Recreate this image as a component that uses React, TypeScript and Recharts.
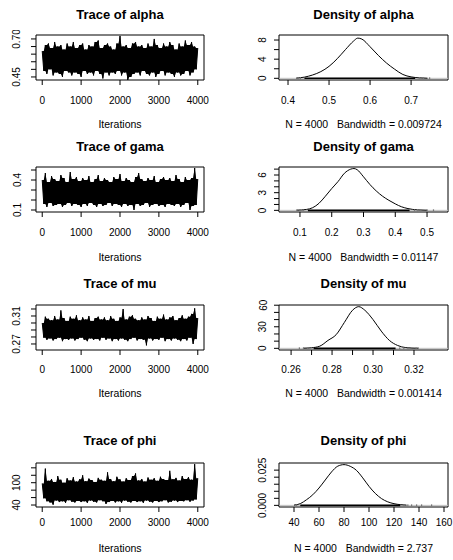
import React from "react";
import {
  ComposedChart,
  Area,
  Line,
  Scatter,
  XAxis,
  YAxis,
  ReferenceArea,
  ReferenceLine,
} from "recharts";

const FONT = '"Liberation Sans", Arial, sans-serif';

// chain positions of the sampled path (even index = upper swing, odd = lower swing)
const iterations = [
  0, 40, 80, 120, 160, 200, 240, 280, 320, 360, 400, 440, 480, 520, 560, 600, 640,
  680, 720, 760, 800, 840, 880, 920, 960, 1000, 1040, 1080, 1120, 1160, 1200, 1240,
  1280, 1320, 1360, 1400, 1440, 1480, 1520, 1560, 1600, 1640, 1680, 1720, 1760,
  1800, 1840, 1880, 1920, 1960, 2000, 2040, 2080, 2120, 2160, 2200, 2240, 2280,
  2320, 2360, 2400, 2440, 2480, 2520, 2560, 2600, 2640, 2680, 2720, 2760, 2800,
  2840, 2880, 2920, 2960, 3000, 3040, 3080, 3120, 3160, 3200, 3240, 3280, 3320,
  3360, 3400, 3440, 3480, 3520, 3560, 3600, 3640, 3680, 3720, 3760, 3800, 3840,
  3880, 3920, 3960, 4000,
];

// trace swings
const alphaHi = [
  0.62, 0.66, 0.67, 0.64, 0.68, 0.65, 0.66, 0.63, 0.67, 0.65, 0.68, 0.64, 0.66,
  0.67, 0.63, 0.66, 0.65, 0.68, 0.69, 0.64, 0.66, 0.67, 0.65, 0.63, 0.67, 0.72,
  0.65, 0.66, 0.64, 0.67, 0.68, 0.65, 0.66, 0.64, 0.67, 0.65, 0.7, 0.66, 0.64,
  0.67, 0.65, 0.68, 0.66, 0.63, 0.67, 0.65, 0.69, 0.66, 0.68, 0.65, 0.64,
];
const alphaLo = [
  0.49, 0.47, 0.5, 0.46, 0.48, 0.47, 0.45, 0.49, 0.48, 0.46, 0.48, 0.47, 0.45,
  0.49, 0.47, 0.48, 0.46, 0.49, 0.47, 0.44, 0.48, 0.46, 0.48, 0.47, 0.49, 0.46,
  0.48, 0.43, 0.45, 0.47, 0.48, 0.46, 0.49, 0.47, 0.46, 0.48, 0.45, 0.47, 0.49,
  0.46, 0.48, 0.47, 0.45, 0.48, 0.46, 0.47, 0.49, 0.46, 0.48, 0.5,
];

const gamaHi = [
  0.4, 0.47, 0.38, 0.44, 0.41, 0.39, 0.45, 0.42, 0.38, 0.48, 0.41, 0.43, 0.39,
  0.42, 0.4, 0.44, 0.38, 0.41, 0.45, 0.39, 0.42, 0.4, 0.38, 0.43, 0.41, 0.46,
  0.39, 0.42, 0.4, 0.38, 0.43, 0.47, 0.41, 0.39, 0.42, 0.4, 0.44, 0.38, 0.41,
  0.43, 0.4, 0.42, 0.39, 0.45, 0.41, 0.38, 0.43, 0.4, 0.42, 0.52, 0.41,
];
const gamaLo = [
  0.16, 0.13, 0.17, 0.14, 0.15, 0.16, 0.13, 0.15, 0.17, 0.14, 0.16, 0.15, 0.13,
  0.16, 0.14, 0.17, 0.15, 0.13, 0.16, 0.14, 0.15, 0.17, 0.14, 0.16, 0.15, 0.13,
  0.16, 0.14, 0.15, 0.1, 0.16, 0.14, 0.15, 0.17, 0.13, 0.15, 0.16, 0.14, 0.15,
  0.13, 0.16, 0.15, 0.14, 0.16, 0.13, 0.15, 0.17, 0.1, 0.14, 0.15,
];

const muHi = [
  0.3, 0.309, 0.306, 0.304, 0.31, 0.305, 0.318, 0.307, 0.303, 0.309, 0.306,
  0.311, 0.304, 0.308, 0.305, 0.31, 0.303, 0.307, 0.309, 0.305, 0.308, 0.304,
  0.31, 0.306, 0.303, 0.308, 0.32, 0.305, 0.309, 0.311, 0.306, 0.304, 0.308,
  0.305, 0.31, 0.307, 0.303, 0.309, 0.306, 0.312, 0.305, 0.308, 0.31, 0.304,
  0.307, 0.311, 0.306, 0.309, 0.313, 0.321, 0.307,
];
const muLo = [
  0.279, 0.276, 0.278, 0.275, 0.277, 0.279, 0.274, 0.277, 0.276, 0.278, 0.275,
  0.277, 0.279, 0.276, 0.274, 0.278, 0.276, 0.277, 0.275, 0.279, 0.276, 0.278,
  0.274, 0.277, 0.275, 0.278, 0.276, 0.274, 0.277, 0.279, 0.275, 0.277, 0.276,
  0.268, 0.278, 0.275, 0.277, 0.276, 0.279, 0.274, 0.277, 0.275, 0.278, 0.276,
  0.274, 0.277, 0.275, 0.279, 0.27, 0.277,
];

const phiHi = [
  98, 138, 105, 110, 102, 118, 108, 100, 112, 106, 115, 103, 109, 120, 104, 111,
  107, 102, 113, 108, 105, 128, 110, 104, 116, 109, 103, 112, 107, 118, 125, 106,
  110, 103, 114, 108, 112, 105, 116, 110, 107, 132, 109, 113, 106, 118, 110, 115,
  108, 150, 112,
];
const phiLo = [
  58, 50, 47, 41, 52, 48, 50, 46, 53, 49, 47, 51, 48, 50, 46, 52, 49, 47, 53, 50,
  43, 48, 51, 47, 50, 46, 52, 49, 47, 51, 48, 50, 46, 52, 49, 47, 51, 48, 50, 53,
  47, 49, 52, 48, 51, 50, 53, 49, 52, 55,
];

// kernel density curves
const alphaDensX = [
  0.42, 0.44, 0.46, 0.48, 0.5, 0.52, 0.54, 0.56, 0.57, 0.58, 0.6, 0.62, 0.64,
  0.66, 0.68, 0.7, 0.72, 0.74,
];
const alphaDensY = [
  0.05, 0.25, 0.7, 1.4, 2.5, 4.1, 6.0, 7.8, 8.4, 8.2, 6.6, 4.8, 3.2, 1.9, 0.8,
  0.3, 0.1, 0.02,
];

const gamaDensX = [
  0.09, 0.12, 0.14, 0.16, 0.18, 0.2, 0.22, 0.24, 0.26, 0.27, 0.28, 0.3, 0.32,
  0.34, 0.36, 0.38, 0.4, 0.42, 0.44, 0.47, 0.5,
];
const gamaDensY = [
  0.03, 0.15, 0.45, 1.2, 2.4, 3.7, 4.9, 6.3, 7.0, 7.1, 6.9, 5.7, 4.4, 3.3, 2.4,
  1.7, 1.1, 0.6, 0.3, 0.08, 0.02,
];

const muDensX = [
  0.266, 0.27, 0.274, 0.278, 0.282, 0.286, 0.29, 0.293, 0.296, 0.3, 0.304, 0.308,
  0.312, 0.316, 0.322,
];
const muDensY = [0.2, 0.8, 3, 11, 19, 36, 53, 58, 53, 40, 24, 11, 4, 1, 0.1];

const phiDensX = [
  40, 45, 50, 55, 60, 65, 70, 75, 80, 85, 90, 95, 100, 105, 110, 115, 120, 125,
  130,
];
const phiDensY = [
  0.0002, 0.0012, 0.004, 0.0075, 0.0123, 0.018, 0.0237, 0.0278, 0.0289, 0.0277,
  0.0248, 0.0195, 0.0135, 0.0085, 0.0048, 0.0025, 0.0012, 0.0005, 0.0002,
];

// observation rug: dense span and sparse outliers
const alphaRug = [0.44, 0.71];
const alphaRugOut = [0.425, 0.43, 0.72, 0.73, 0.745];
const gamaRug = [0.125, 0.445];
const gamaRugOut = [0.09, 0.1, 0.11, 0.46, 0.47, 0.48, 0.5, 0.52];
const muRug = [0.271, 0.311];
const muRugOut = [0.264, 0.266, 0.268, 0.313, 0.315, 0.317, 0.321, 0.322];
const phiRug = [45, 125];
const phiRugOut = [42, 128, 131, 134, 138, 142, 150];

// axis ticks
const traceXTicks = [0, 1000, 2000, 3000, 4000];
const alphaTraceTicks = [0.45, 0.5, 0.55, 0.6, 0.65, 0.7];
const gamaTraceTicks = [0.1, 0.2, 0.3, 0.4, 0.5];
const muTraceTicks = [0.27, 0.28, 0.29, 0.3, 0.31, 0.32];
const phiTraceTicks = [40, 60, 80, 100, 120, 140];
const alphaDensXTicks = [0.4, 0.5, 0.6, 0.7];
const gamaDensXTicks = [0.1, 0.2, 0.3, 0.4, 0.5];
const muDensXTicks = [0.26, 0.27, 0.28, 0.29, 0.3, 0.31, 0.32];
const phiDensXTicks = [40, 60, 80, 100, 120, 140, 160];
const alphaDensYTicks = [0, 2, 4, 6, 8];
const gamaDensYTicks = [0, 1, 2, 3, 4, 5, 6, 7];
const muDensYTicks = [0, 10, 20, 30, 40, 50, 60];
const phiDensYTicks = [0, 0.005, 0.01, 0.015, 0.02, 0.025];

type Row = { title: number; top: number; bottom: number; tick: number; lab: number };

const rows: Row[] = [
  { title: 14, top: 35, bottom: 80, tick: 100, lab: 124 },
  { title: 146, top: 167, bottom: 212, tick: 232, lab: 257 },
  { title: 283, top: 305, bottom: 350, tick: 369, lab: 393 },
  { title: 440, top: 463, bottom: 507, tick: 522, lab: 548 },
];

const TRACE_BOX = { left: 36, right: 204, yLab: 17 };
const DENS_BOX = { left: 279, right: 448, yLab: 263 };
const PAD = 5;

const Txt = ({ x, y, size, bold, children }: any) => (
  <div
    style={{
      position: "absolute",
      left: x,
      top: y,
      transform: "translate(-50%, -50%)",
      whiteSpace: "pre",
      fontFamily: FONT,
      fontSize: size,
      fontWeight: bold ? "bold" : "normal",
      color: "#000",
      lineHeight: 1,
    }}
  >
    {children}
  </div>
);

const makeXTick = (yText: number, fmt: (v: number) => string, shown?: string[]) => (props: any) => {
  const s = fmt(props.payload.value);
  if (shown && !shown.includes(s)) return <g />;
  return (
    <text
      x={props.x}
      y={yText}
      textAnchor="middle"
      dominantBaseline="central"
      fontSize={10}
      fontFamily={FONT}
      fill="#000"
    >
      {s}
    </text>
  );
};

const makeYTick = (xText: number, fmt: (v: number) => string, shown: string[]) => (props: any) => {
  const s = fmt(props.payload.value);
  if (!shown.includes(s)) return <g />;
  return (
    <text
      x={xText}
      y={props.y}
      transform={`rotate(-90 ${xText} ${props.y})`}
      textAnchor="middle"
      dominantBaseline="central"
      fontSize={10}
      fontFamily={FONT}
      fill="#000"
    >
      {s}
    </text>
  );
};

type TraceProps = {
  row: Row;
  name: string;
  hi: number[];
  lo: number[];
  yDomain: [number, number];
  yTicks: number[];
  yFmt: (v: number) => string;
  yShown: string[];
};

const TracePanel = ({ row, name, hi, lo, yDomain, yTicks, yFmt, yShown }: TraceProps) => {
  const boxH = row.bottom - row.top;
  const axisH = row.tick - row.bottom + 10;
  const height = PAD + boxH + axisH;
  const width = 226;
  // interleave upper and lower swings into one chain path
  const path = iterations.map((_, i) => (i % 2 === 0 ? hi[i / 2] : lo[(i - 1) / 2]));
  // solid core of the band: between the nearest swings on either side
  const data = iterations.map((it, i) => {
    const prev = path[Math.max(0, i - 1)];
    const next = path[Math.min(path.length - 1, i + 1)];
    const band =
      i % 2 === 0
        ? [Math.max(prev, next), path[i]]
        : [path[i], Math.min(prev, next)];
    return { it, v: path[i], band };
  });
  const xDomain: [number, number] = [-160, 4160];
  return (
    <>
      <Txt x={(TRACE_BOX.left + TRACE_BOX.right) / 2} y={row.title} size={13} bold>
        {`Trace of ${name}`}
      </Txt>
      <div style={{ position: "absolute", left: 0, top: row.top - PAD }}>
        <ComposedChart
          width={width}
          height={height}
          data={data}
          margin={{ top: PAD, right: width - TRACE_BOX.right, bottom: 0, left: 0 }}
        >
          <XAxis
            dataKey="it"
            type="number"
            domain={xDomain}
            ticks={traceXTicks}
            interval={0}
            allowDataOverflow
            height={axisH}
            axisLine={false}
            tickLine={{ stroke: "#000" }}
            tickSize={5}
            tick={makeXTick(PAD + boxH + (row.tick - row.bottom), (v) => String(v))}
          />
          <YAxis
            type="number"
            domain={yDomain}
            ticks={yTicks}
            interval={0}
            allowDataOverflow
            width={TRACE_BOX.left}
            axisLine={false}
            tickLine={{ stroke: "#000" }}
            tickSize={5}
            tick={makeYTick(TRACE_BOX.yLab, yFmt, yShown)}
          />
          <Area
            dataKey="band"
            type="linear"
            stroke="none"
            fill="#000"
            fillOpacity={1}
            isAnimationActive={false}
          />
          <Line
            dataKey="v"
            type="linear"
            stroke="#000"
            strokeWidth={1}
            dot={false}
            isAnimationActive={false}
          />
          <ReferenceArea
            x1={xDomain[0]}
            x2={xDomain[1]}
            y1={yDomain[0]}
            y2={yDomain[1]}
            fill="none"
            stroke="#000"
            strokeWidth={1}
          />
        </ComposedChart>
      </div>
      <Txt x={(TRACE_BOX.left + TRACE_BOX.right) / 2} y={row.lab} size={10.5}>
        Iterations
      </Txt>
    </>
  );
};

type DensProps = {
  row: Row;
  name: string;
  xs: number[];
  ys: number[];
  rug: number[];
  rugOut: number[];
  xDomain: [number, number];
  yDomain: [number, number];
  xTicks: number[];
  xFmt: (v: number) => string;
  xShown?: string[];
  yTicks: number[];
  yFmt: (v: number) => string;
  yShown: string[];
  bandwidth: string;
};

const RugDot = (props: any) => (
  <rect x={props.cx - 0.5} y={props.cy - 1} width={1.2} height={2} fill="#777" />
);

const DensityPanel = (p: DensProps) => {
  const { row } = p;
  const boxH = row.bottom - row.top;
  const axisH = row.tick - row.bottom + 10;
  const height = PAD + boxH + axisH;
  const width = 227;
  const left = 226;
  const data = p.xs.map((x, i) => ({ x, y: p.ys[i] }));
  const outs = p.rugOut.map((x) => ({ x, y: 0 }));
  return (
    <>
      <Txt x={(DENS_BOX.left + DENS_BOX.right) / 2} y={row.title} size={13} bold>
        {`Density of ${p.name}`}
      </Txt>
      <div style={{ position: "absolute", left, top: row.top - PAD }}>
        <ComposedChart
          width={width}
          height={height}
          data={data}
          margin={{ top: PAD, right: left + width - DENS_BOX.right, bottom: 0, left: 0 }}
        >
          <XAxis
            dataKey="x"
            type="number"
            domain={p.xDomain}
            ticks={p.xTicks}
            interval={0}
            allowDataOverflow
            height={axisH}
            axisLine={false}
            tickLine={{ stroke: "#000" }}
            tickSize={5}
            tick={makeXTick(PAD + boxH + (row.tick - row.bottom), p.xFmt, p.xShown)}
          />
          <YAxis
            type="number"
            domain={p.yDomain}
            ticks={p.yTicks}
            interval={0}
            allowDataOverflow
            width={DENS_BOX.left - left}
            axisLine={false}
            tickLine={{ stroke: "#000" }}
            tickSize={5}
            tick={makeYTick(DENS_BOX.yLab - left, p.yFmt, p.yShown)}
          />
          <ReferenceLine y={0} stroke="#bdbdbd" strokeWidth={1} />
          <ReferenceLine
            segment={[
              { x: p.rug[0], y: 0 },
              { x: p.rug[1], y: 0 },
            ]}
            stroke="#000"
            strokeWidth={1.6}
          />
          <Scatter data={outs} dataKey="y" shape={RugDot} isAnimationActive={false} />
          <Line
            dataKey="y"
            type="monotone"
            stroke="#000"
            strokeWidth={1}
            dot={false}
            isAnimationActive={false}
          />
          <ReferenceArea
            x1={p.xDomain[0]}
            x2={p.xDomain[1]}
            y1={p.yDomain[0]}
            y2={p.yDomain[1]}
            fill="none"
            stroke="#000"
            strokeWidth={1}
          />
        </ComposedChart>
      </div>
      <Txt x={(DENS_BOX.left + DENS_BOX.right) / 2} y={row.lab} size={10.5}>
        {`N = 4000   Bandwidth = ${p.bandwidth}`}
      </Txt>
    </>
  );
};

const f2 = (v: number) => v.toFixed(2);
const f1 = (v: number) => v.toFixed(1);
const f3 = (v: number) => v.toFixed(3);
const f0 = (v: number) => String(Math.round(v));

export default function App() {
  return (
    <div
      style={{
        position: "absolute",
        left: 0,
        top: 0,
        width: 453,
        height: 560,
        background: "#fff",
        overflow: "hidden",
      }}
    >
      <TracePanel row={rows[0]} name="alpha" hi={alphaHi} lo={alphaLo} yDomain={[0.43, 0.726]} yTicks={alphaTraceTicks} yFmt={f2} yShown={["0.45", "0.70"]} />
      <DensityPanel
        row={rows[0]}
        name="alpha"
        xs={alphaDensX}
        ys={alphaDensY}
        rug={alphaRug}
        rugOut={alphaRugOut}
        xDomain={[0.378, 0.79]}
        yDomain={[-0.35, 9.05]}
        xTicks={alphaDensXTicks}
        xFmt={f1}
        yTicks={alphaDensYTicks}
        yFmt={f0}
        yShown={["0", "4", "8"]}
        bandwidth="0.009724"
      />
      <TracePanel row={rows[1]} name="gama" hi={gamaHi} lo={gamaLo} yDomain={[0.08, 0.53]} yTicks={gamaTraceTicks} yFmt={f1} yShown={["0.1", "0.4"]} />
      <DensityPanel
        row={rows[1]}
        name="gama"
        xs={gamaDensX}
        ys={gamaDensY}
        rug={gamaRug}
        rugOut={gamaRugOut}
        xDomain={[0.034, 0.566]}
        yDomain={[-0.28, 7.36]}
        xTicks={gamaDensXTicks}
        xFmt={f1}
        yTicks={gamaDensYTicks}
        yFmt={f0}
        yShown={["0", "3", "6"]}
        bandwidth="0.01147"
      />
      <TracePanel row={rows[2]} name="mu" hi={muHi} lo={muLo} yDomain={[0.2614, 0.3257]} yTicks={muTraceTicks} yFmt={f2} yShown={["0.27", "0.31"]} />
      <DensityPanel
        row={rows[2]}
        name="mu"
        xs={muDensX}
        ys={muDensY}
        rug={muRug}
        rugOut={muRugOut}
        xDomain={[0.2541, 0.3366]}
        yDomain={[-2.32, 60.3]}
        xTicks={muDensXTicks}
        xFmt={f2}
        xShown={["0.26", "0.28", "0.30", "0.32"]}
        yTicks={muDensYTicks}
        yFmt={f0}
        yShown={["0", "30", "60"]}
        bandwidth="0.001414"
      />
      <TracePanel row={rows[3]} name="phi" hi={phiHi} lo={phiLo} yDomain={[34.7, 153]} yTicks={phiTraceTicks} yFmt={f0} yShown={["40", "100"]} />
      <DensityPanel
        row={rows[3]}
        name="phi"
        xs={phiDensX}
        ys={phiDensY}
        rug={phiRug}
        rugOut={phiRugOut}
        xDomain={[28, 163.2]}
        yDomain={[-0.00116, 0.03006]}
        xTicks={phiDensXTicks}
        xFmt={f0}
        yTicks={phiDensYTicks}
        yFmt={f3}
        yShown={["0.000", "0.025"]}
        bandwidth="2.737"
      />
    </div>
  );
}
